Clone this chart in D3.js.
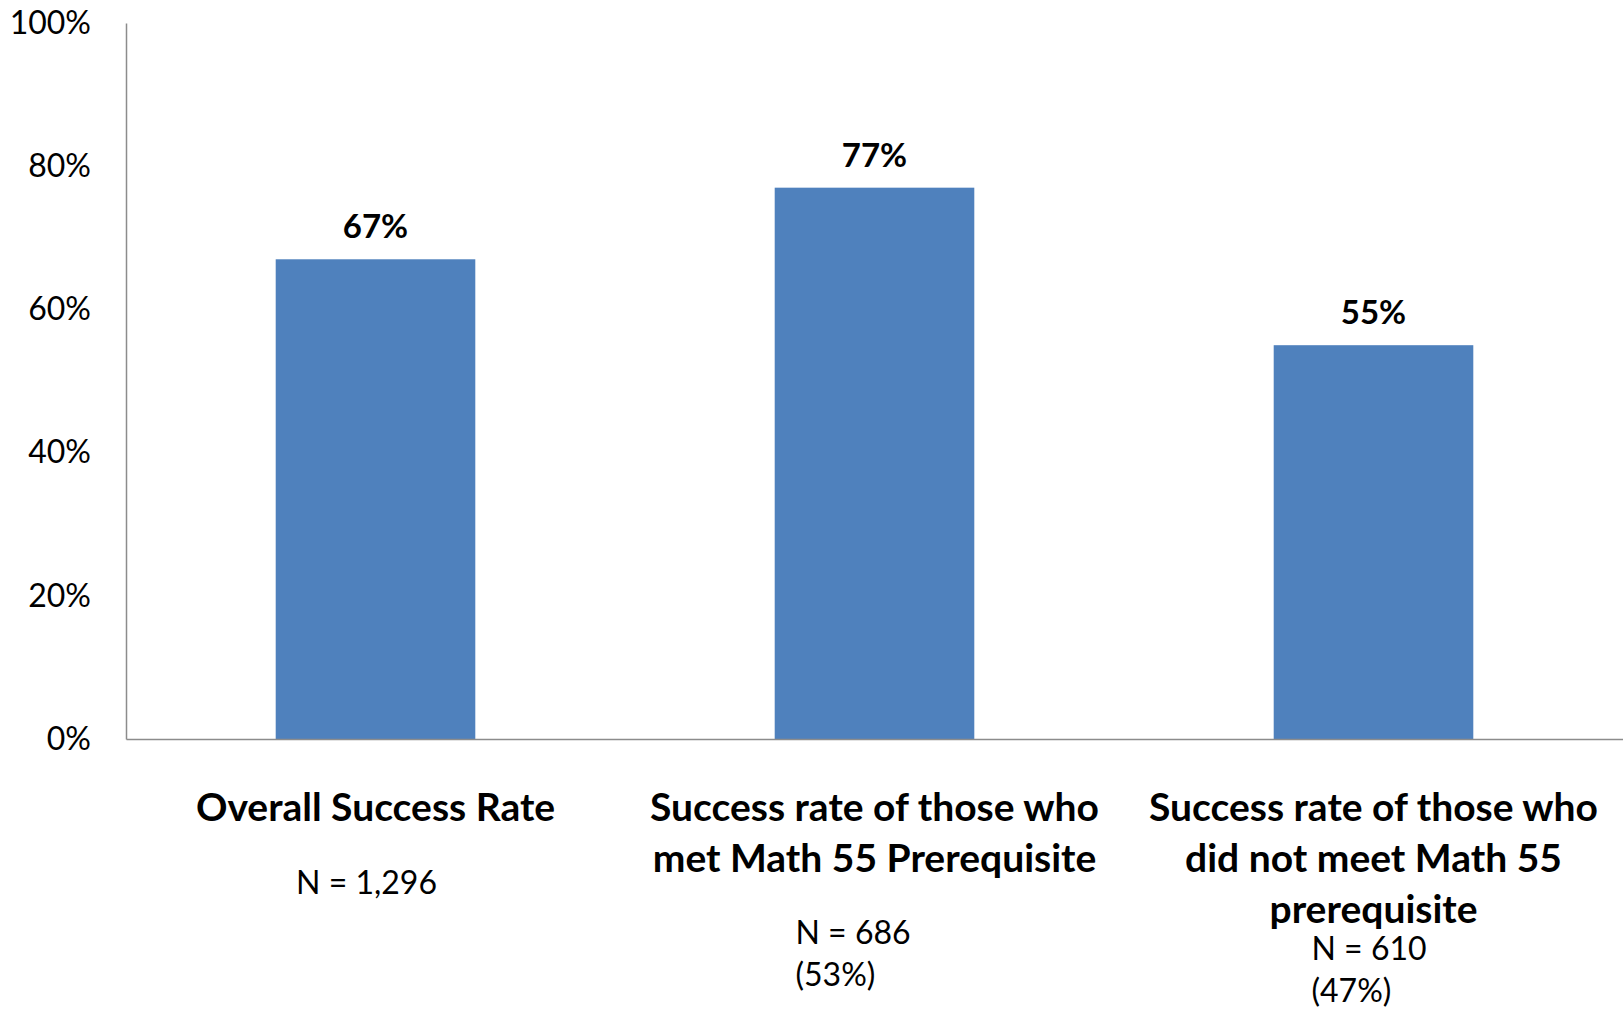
<!DOCTYPE html>
<html>
<head>
    <meta charset="utf-8">
    <style>
        body { margin: 0; background: #fff; }
        text { font-family: Lato, "Open Sans", sans-serif; }
    </style>
</head>
<body>
    <script src="https://cdn.jsdelivr.net/npm/d3@7"></script>
    <script>
        var categories = [
            ["Overall Success Rate"],
            ["Success rate of those who", "met Math 55 Prerequisite"],
            ["Success rate of those who", "did not meet Math 55", "prerequisite"]
        ];
        var values = [0.67, 0.77, 0.55];
        var nLabels = [
            ["N = 1,296"],
            ["N = 686", "(53%)"],
            ["N = 610", "(47%)"]
        ];
        var yTicks = [0, 0.2, 0.4, 0.6, 0.8, 1.0];

        var width = 1623, height = 1011;
        var margins = { left: 126, top: 23, right: 0, bottom: 272 };
        var graphWidth = width - margins.left - margins.right;
        var graphHeight = height - margins.top - margins.bottom;

        var svg = d3.select('body')
            .append('svg')
            .attr('width', width)
            .attr('height', height);

        var x = d3.scaleBand()
            .domain(d3.range(values.length))
            .range([0, graphWidth])
            .paddingInner(0.6)
            .paddingOuter(0.3);

        var y = d3.scaleLinear()
            .domain([0, 1])
            .range([graphHeight, 0]);

        var g = svg.append('g')
            .attr('transform', 'translate(' + margins.left + ',' + margins.top + ')');

        // bars
        g.selectAll('rect.bar')
            .data(values)
            .enter()
            .append('rect')
            .attr('class', 'bar')
            .attr('x', function (d, i) { return x(i); })
            .attr('y', function (d) { return y(d); })
            .attr('width', x.bandwidth())
            .attr('height', function (d) { return graphHeight - y(d); })
            .attr('fill', '#4F81BD');

        // value labels
        g.selectAll('text.value')
            .data(values)
            .enter()
            .append('text')
            .attr('class', 'value')
            .attr('x', function (d, i) { return x(i) + x.bandwidth() / 2; })
            .attr('y', function (d) { return y(d) - 21; })
            .attr('text-anchor', 'middle')
            .attr('font-size', 33)
            .attr('font-weight', 'bold')
            .text(function (d) { return d3.format('.0%')(d); });

        // y axis
        var yAxis = d3.axisLeft(y)
            .tickValues(yTicks)
            .tickSize(0)
            .tickPadding(35)
            .tickFormat(d3.format('.0%'));
        var yAxisNodes = g.append('g').call(yAxis);
        yAxisNodes.select('.domain').attr('stroke', '#8c8c8c').attr('stroke-width', 1.5);
        yAxisNodes.selectAll('.tick text')
            .attr('font-family', 'Lato, sans-serif')
            .attr('font-size', 32)
            .attr('fill', '#000');

        // x axis line
        var xAxis = d3.axisBottom(x).tickSize(0).tickFormat('');
        var xAxisNodes = g.append('g')
            .attr('transform', 'translate(0,' + graphHeight + ')')
            .call(xAxis);
        xAxisNodes.select('.domain').attr('stroke', '#8c8c8c').attr('stroke-width', 1.5);

        // category labels
        var catGroups = g.selectAll('g.cat')
            .data(categories)
            .enter()
            .append('g')
            .attr('class', 'cat')
            .attr('transform', function (d, i) {
                return 'translate(' + (x(i) + x.bandwidth() / 2) + ',' + (graphHeight + 82) + ')';
            });
        catGroups.selectAll('text')
            .data(function (d) { return d; })
            .enter()
            .append('text')
            .attr('y', function (d, j) { return j * 51; })
            .attr('text-anchor', 'middle')
            .attr('font-size', 39)
            .attr('font-weight', 'bold')
            .text(function (d) { return d; });

        // N annotations (text boxes)
        var nOffsets = [
            { dx: -9, dy: 155, anchor: 'middle' },
            { dx: -79, dy: 205, anchor: 'start' },
            { dx: -62, dy: 221, anchor: 'start' }
        ];
        var nGroups = g.selectAll('g.nlab')
            .data(nLabels)
            .enter()
            .append('g')
            .attr('class', 'nlab')
            .attr('transform', function (d, i) {
                return 'translate(' + (x(i) + x.bandwidth() / 2 + nOffsets[i].dx) + ',' + (graphHeight + nOffsets[i].dy) + ')';
            });
        nGroups.selectAll('text')
            .data(function (d, i) { return d.map(function (t) { return { t: t, a: nOffsets[i].anchor }; }); })
            .enter()
            .append('text')
            .attr('y', function (d, j) { return j * 42; })
            .attr('text-anchor', function (d) { return d.a; })
            .attr('font-size', 32)
            .text(function (d) { return d.t; });
    </script>
</body>
</html>
